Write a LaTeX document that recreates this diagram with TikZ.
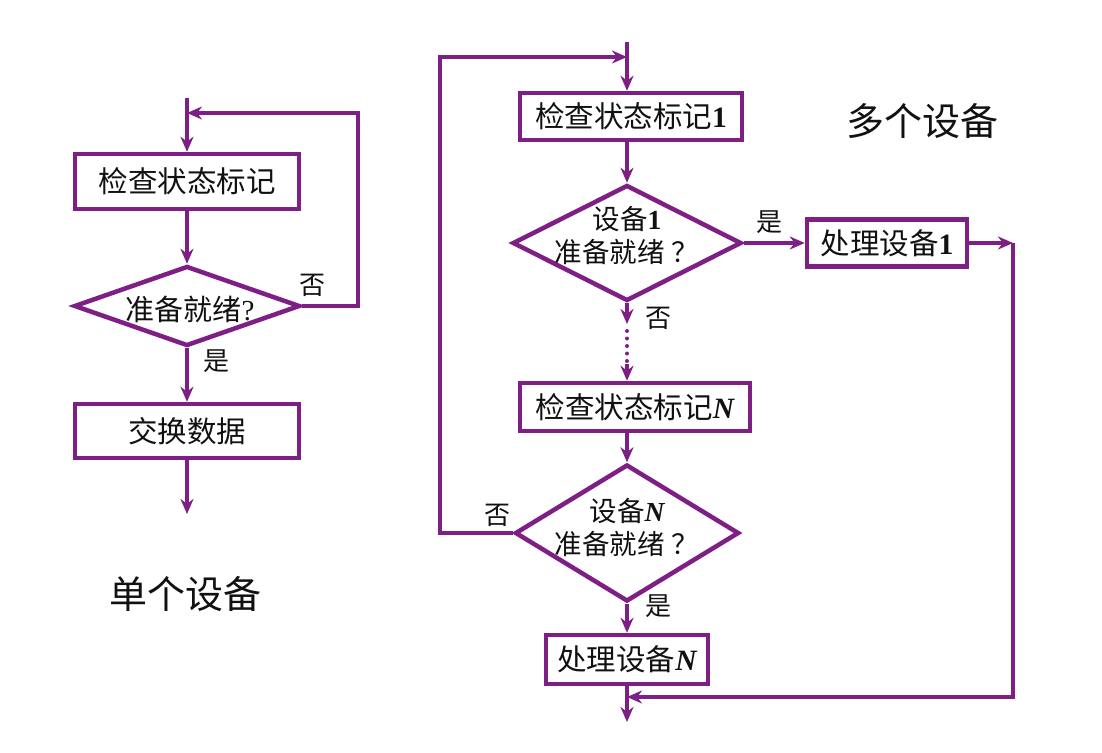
\documentclass[tikz,border=0pt]{standalone}
\usepackage{fontspec}
\setmainfont{Noto Sans CJK SC}
\newfontfamily\lat{Liberation Serif}
\usetikzlibrary{shapes.geometric,arrows.meta}
\definecolor{pur}{HTML}{7E1F86}
\definecolor{ink}{HTML}{111111}
\begin{document}
\begin{tikzpicture}[x=1pt,y=-1pt,
  box/.style={draw=pur, line width=4.5pt, fill=white, inner sep=0pt, text=ink, font=\fontsize{29.5}{32}\selectfont},
  dia/.style={draw=pur, line width=4.5pt, diamond, inner sep=0pt},
  dtext/.style={align=center, text=ink, inner sep=0pt, font=\fontsize{27.5}{33}\selectfont},
  arr/.style={draw=pur, line width=3.6pt, -{Stealth[length=15pt,width=13pt]}},
  dots/.style={draw=pur, line width=4pt, line cap=round, dash pattern=on 0pt off 7.5pt},
  lbl/.style={text=ink, inner sep=0pt, font=\fontsize{26}{30}\selectfont},
  ttl/.style={text=ink, inner sep=0pt, font=\fontsize{38}{42}\selectfont}]
\useasboundingbox (0,0) rectangle (1102,752);
\fill[white] (0,0) rectangle (1102,752);

% ---------- left: single device ----------
\coordinate (le) at (187,98);
\coordinate (lj) at (187,113);
\coordinate (lx) at (187,514);
\node[box, minimum width=224, minimum height=55] (lb1) at (187,181.5) {检查状态标记};
\node[dia, minimum width=226, minimum height=80] (ld) at (187,306) {};
\node[dtext, font=\fontsize{29}{32}\selectfont] (ldt) at (190,309) {准备就绪{\lat ?}};
\node[box, minimum width=224, minimum height=54] (lb2) at (187,431) {交换数据};
\node[lbl] (lno) at (312,285) {否};
\node[lbl] (lyes) at (216,361) {是};
\node[ttl] (lt) at (185,594) {单个设备};

\draw[arr] (le) -- (lb1.north);
\draw[arr] (lb1.south) -- (ld.north);
\draw[arr] (ld.south) -- (lb2.north);
\draw[arr] (lb2.south) -- (lx);
\draw[arr] (ld.east) -- ++(56,0) |- (lj);

% ---------- right: multiple devices ----------
\coordinate (ax) at (627,0);
\coordinate (re) at (627,42);
\coordinate (rj) at (627,57);
\coordinate (rl) at (440,57);
\coordinate (c1) at (627,324);
\coordinate (c2) at (627,364);
\coordinate (rr) at (1013,243);
\coordinate (rk) at (627,697);
\coordinate (rx) at (627,722);

\node[box, minimum width=222, minimum height=47] (rb1) at (631,116.5) {检查状态标记{\lat\bfseries 1}};
\node[dia, minimum width=229, minimum height=116] (rd1) at (627,243) {};
\node[dtext] (rd1t) at (627,236) {设备{\lat\bfseries 1}\\准备就绪\hspace{0.25em}？};
\node[box, minimum width=160, minimum height=47] (rp1) at (887,243) {处理设备{\lat\bfseries 1}};
\node[box, minimum width=230, minimum height=48] (rbN) at (635,407) {检查状态标记{\lat\bfseries\itshape N}};
\node[dia, minimum width=224, minimum height=137] (rdN) at (627,533) {};
\node[dtext] (rdNt) at (627,528) {设备{\lat\bfseries\itshape N}\\准备就绪\hspace{0.25em}？};
\node[box, minimum width=162, minimum height=49] (rpN) at (627,659.5) {处理设备{\lat\bfseries\itshape N}};

\node[lbl] (ryes1) at (769,222) {是};
\node[lbl] (rno1) at (658,318) {否};
\node[lbl] (rnoN) at (497,515) {否};
\node[lbl] (ryesN) at (658,606) {是};
\node[ttl] (rt) at (922,121) {多个设备};

\draw[arr] (re) -- (re |- rb1.north);
\draw[arr] (ax |- rb1.south) -- (rd1.north);
\draw[arr] (rd1.east) -- (rp1.west);
\draw[arr] (rp1.east) -- (rr);
\draw[arr] (rr) |- (rk);
\draw[arr] (rd1.south) -- (c1);
\draw[dots] (c1) ++(0,7) -- (c2);
\draw[arr] (c2) -- (ax |- rbN.north);
\draw[arr] (ax |- rbN.south) -- (rdN.north);
\draw[arr] (rdN.south) -- (rpN.north);
\draw[arr] (rpN.south) -- (rx);
\draw[arr] (rdN.west) -| (rl) -- (rj);
\end{tikzpicture}
\end{document}
